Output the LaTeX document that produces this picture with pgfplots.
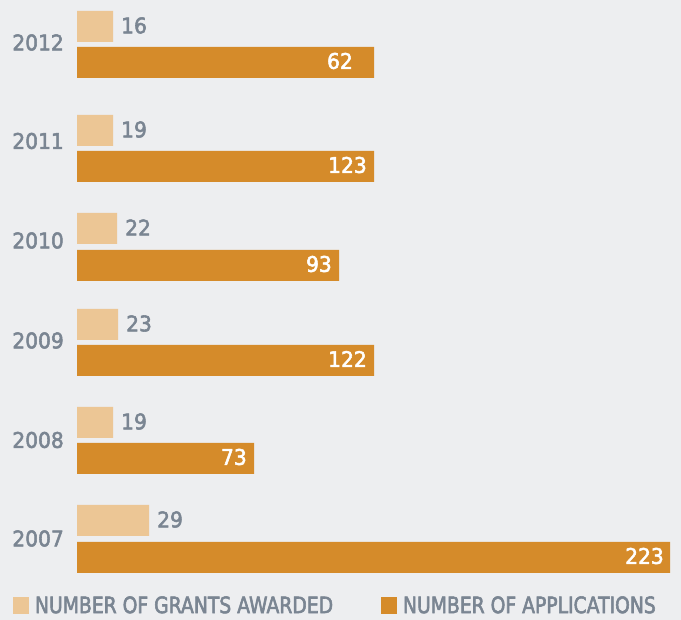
\documentclass[border=0pt]{standalone}
\usepackage{pgfplots}
\pgfplotsset{compat=1.18}
\usepackage{fontspec}
\setmainfont{DejaVu Sans}
\newfontfamily\numfont[FakeStretch=0.94,FakeBold=2.5]{DejaVu Sans}
\newfontfamily\legfont[FakeStretch=0.83,FakeBold=2.5]{DejaVu Sans}
\definecolor{bg}{HTML}{EDEEF0}
\definecolor{lightbar}{HTML}{ECC695}
\definecolor{darkbar}{HTML}{D58B2A}
\definecolor{txt}{HTML}{7A8592}
\newcommand{\numsize}{\numfont\fontsize{21.5}{24}\selectfont}
\begin{document}
\begin{tikzpicture}
\useasboundingbox (0pt,0pt) rectangle (681pt,620pt);
\fill[bg] (0pt,0pt) rectangle (681pt,620pt);
\begin{axis}[
  at={(0pt,0pt)}, anchor=south west,
  scale only axis, width=681pt, height=620pt,
  xmin=-77, xmax=604, ymin=0, ymax=620, y dir=reverse,
  hide axis, clip=false,
  xbar, bar width=31,
  point meta=explicit symbolic,
  legend columns=2,
  legend cell align=left,
  legend style={at={(axis description cs:0.01909,0.0234)}, anchor=west,
    draw=none, fill=none, inner sep=0pt, outer sep=0pt,
    column sep=0pt, row sep=0pt,
    nodes={inner sep=0pt, outer sep=0pt, anchor=west},
    font=\legfont\fontsize{22.6}{24}\selectfont, text=txt},
]
\addplot[fill=lightbar, draw=none, bar shift=0pt,
  nodes near coords,
  every node near coord/.append style={anchor=west, inner sep=0pt, xshift=8pt, yshift=1pt, font=\numsize, text=txt},
  legend image code/.code={\fill[lightbar] (0pt,-8.5pt) rectangle (16pt,8.5pt); \path (22pt,0pt);}]
  table[x=len, y=pos, meta=lab] {
pos len lab
26.5 36 16
130.5 36 19
228.5 40 22
324.5 41 23
422.5 36 19
520.5 72 29
};
\addlegendentry{\makebox[346pt][l]{NUMBER OF GRANTS AWARDED}}
\addplot[fill=darkbar, draw=none, bar shift=0pt,
  nodes near coords,
  visualization depends on={value \thisrow{dx}\as\labdx},
  every node near coord/.append style={anchor=east, inner sep=0pt, xshift=\labdx pt, yshift=1.5pt, font=\numsize, text=white},
  legend image code/.code={\fill[darkbar] (0pt,-8.5pt) rectangle (16pt,8.5pt); \path (22pt,0pt);}]
  table[x=len, y=pos, meta=lab] {
pos len lab dx
62.5 297 62 -21
166.5 297 123 -7
265.5 262 93 -7
360.5 297 122 -7
458.5 177 73 -7
557.5 593 223 -6
};
\addlegendentry{NUMBER OF APPLICATIONS}
\node[anchor=east, inner sep=0pt, font=\numsize, text=txt] at (axis cs:-13,42.5) {2012};
\node[anchor=east, inner sep=0pt, font=\numsize, text=txt] at (axis cs:-13,141) {2011};
\node[anchor=east, inner sep=0pt, font=\numsize, text=txt] at (axis cs:-13,240.5) {2010};
\node[anchor=east, inner sep=0pt, font=\numsize, text=txt] at (axis cs:-13,340.5) {2009};
\node[anchor=east, inner sep=0pt, font=\numsize, text=txt] at (axis cs:-13,440) {2008};
\node[anchor=east, inner sep=0pt, font=\numsize, text=txt] at (axis cs:-13,538.5) {2007};
\end{axis}
\end{tikzpicture}
\end{document}
